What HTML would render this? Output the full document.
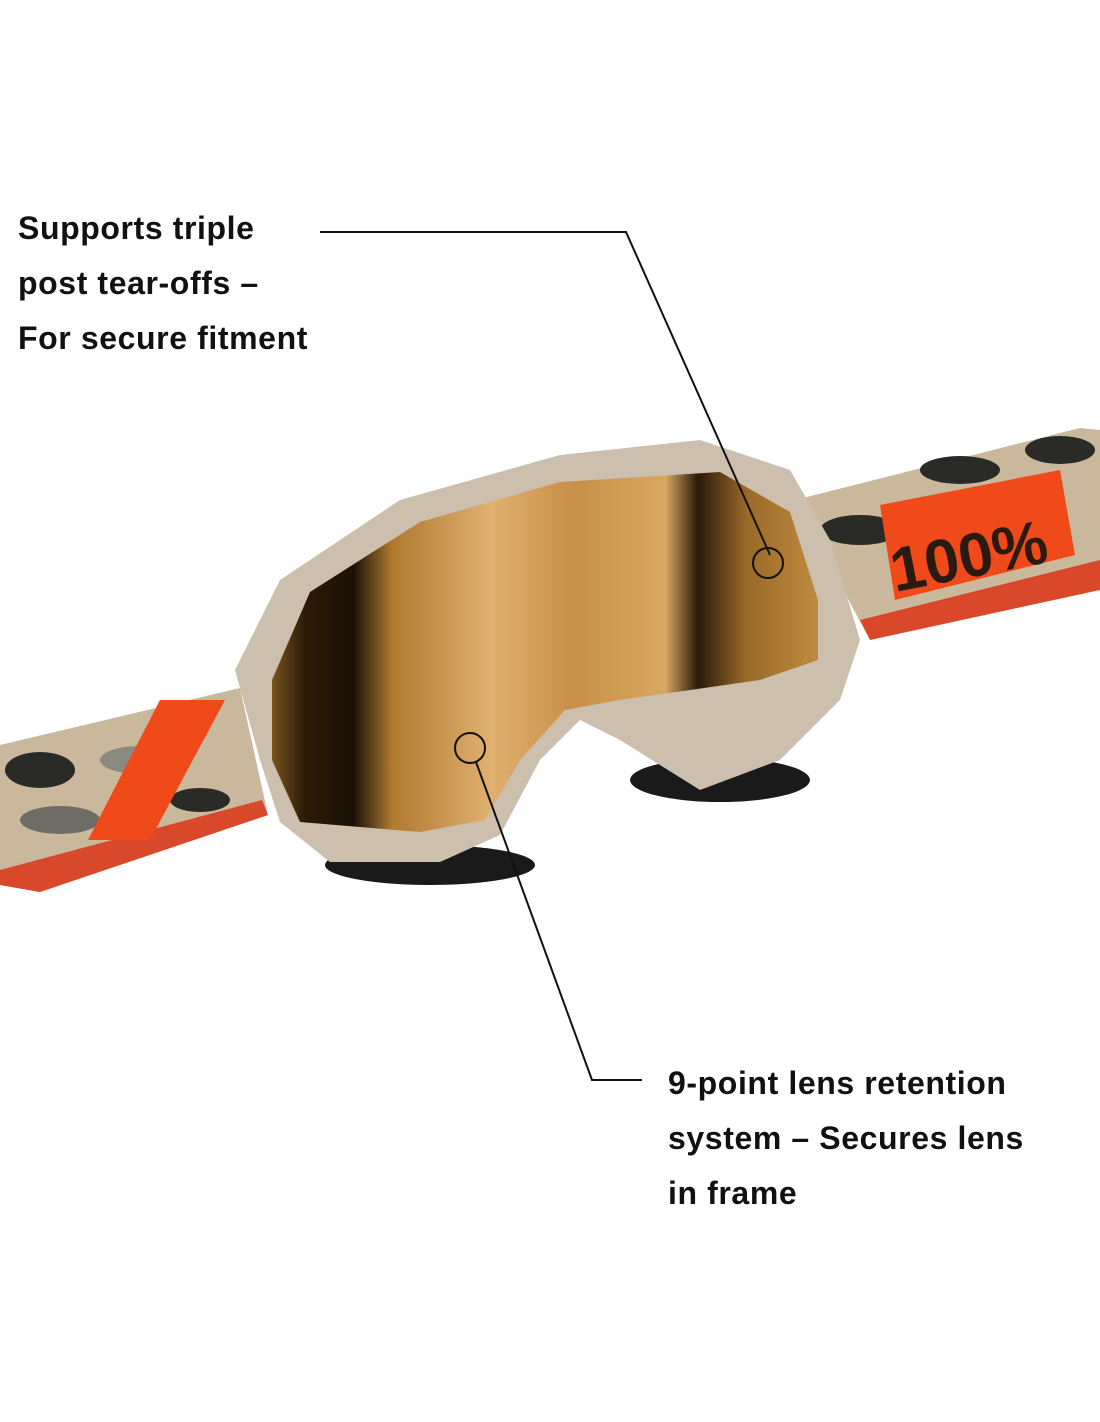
<!DOCTYPE html>
<html><head><meta charset="utf-8"><style>
html,body{margin:0;padding:0;background:#fff;width:1100px;height:1422px;overflow:hidden}
.t{position:absolute;font-family:"Liberation Sans",sans-serif;font-weight:bold;font-size:32px;letter-spacing:0.6px;color:#111;line-height:55px}
</style></head><body>
<svg width="1100" height="1422" style="position:absolute;left:0;top:0">
<defs>
<linearGradient id="lens" x1="0" y1="0" x2="1" y2="0">
<stop offset="0" stop-color="#7a5420"/><stop offset="0.06" stop-color="#2a1a08"/>
<stop offset="0.15" stop-color="#1a1208"/><stop offset="0.22" stop-color="#b07a30"/>
<stop offset="0.4" stop-color="#e0b070"/><stop offset="0.55" stop-color="#c89048"/>
<stop offset="0.72" stop-color="#d8a860"/><stop offset="0.78" stop-color="#2a1a0a"/>
<stop offset="0.87" stop-color="#9a6a28"/><stop offset="1" stop-color="#c08a40"/>
</linearGradient>
</defs>
<polygon points="0,745 240,688 268,815 40,892 0,885" fill="#c9b89c"/>
<polygon points="0,870 262,800 268,815 40,892 0,885" fill="#d9482a"/>
<ellipse cx="40" cy="770" rx="35" ry="18" fill="#2a2a26"/>
<ellipse cx="140" cy="760" rx="40" ry="14" fill="#8a8a80"/>
<ellipse cx="60" cy="820" rx="40" ry="14" fill="#6e6e66"/>
<ellipse cx="200" cy="800" rx="30" ry="12" fill="#2a2a26"/>
<polygon points="160,700 225,700 150,840 88,840" fill="#f04a1a"/>
<ellipse cx="430" cy="865" rx="105" ry="20" fill="#1a1a1a"/>
<ellipse cx="720" cy="780" rx="90" ry="22" fill="#1a1a1a"/>
<polygon points="795,500 1080,428 1100,430 1100,585 870,640" fill="#c9b89c"/>
<polygon points="860,620 1100,560 1100,590 870,640" fill="#d9482a"/>
<ellipse cx="860" cy="530" rx="40" ry="15" fill="#2a2a26"/>
<ellipse cx="960" cy="470" rx="40" ry="14" fill="#2a2a26"/>
<ellipse cx="1060" cy="450" rx="35" ry="14" fill="#2a2a26"/>
<polygon points="880,505 1060,470 1075,555 895,600" fill="#f04a1a"/>
<text x="895" y="592" font-family="Liberation Sans,sans-serif" font-weight="bold" font-size="62" fill="#2a1a10" transform="rotate(-11 895 592)">100%</text>
<polygon points="235,670 280,580 400,500 560,455 700,440 790,470 830,540 860,640 840,700 780,760 700,790 620,740 580,720 540,760 500,835 440,862 330,862 280,822 260,760" fill="#cdbfae"/>
<polygon points="272,680 310,592 420,522 560,482 720,472 790,512 818,600 818,660 760,680 620,700 565,710 520,760 485,820 420,832 300,822 272,760" fill="url(#lens)"/>
<g stroke="#111" stroke-width="2" fill="none">
<polyline points="320,232 626,232 770,555"/>
<circle cx="768" cy="563" r="15"/>
<circle cx="470" cy="748" r="15"/>
<polyline points="476,762 592,1080 642,1080"/>
</g>
</svg>
<div class="t" style="left:18px;top:201px">Supports triple<br>post tear-offs –<br>For secure fitment</div>
<div class="t" style="left:668px;top:1056px">9-point lens retention<br>system – Secures lens<br>in frame</div>
</body></html>
